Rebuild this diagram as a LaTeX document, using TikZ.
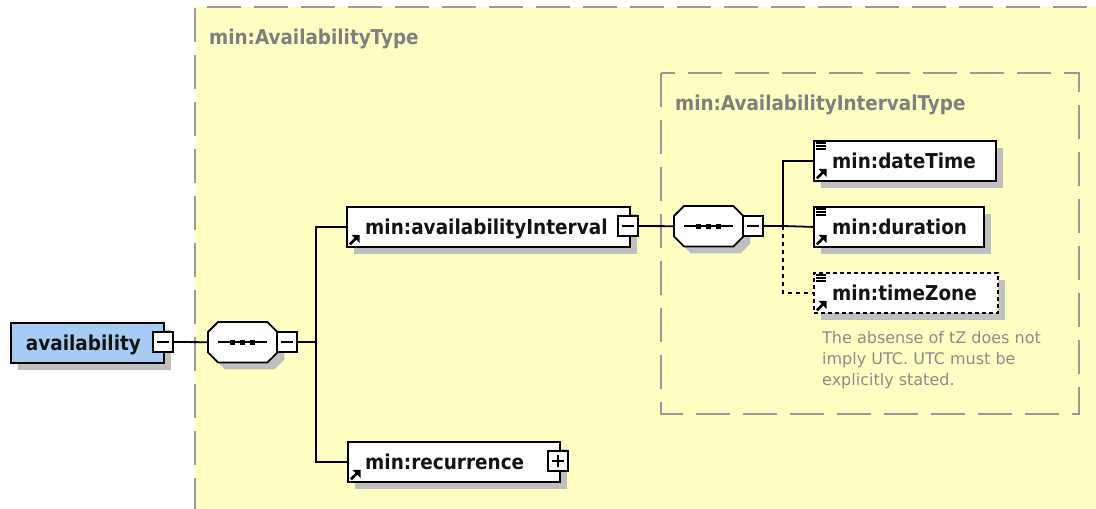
\documentclass[tikz,border=0pt]{standalone}
\usepackage{fontspec}
\setmainfont{DejaVu Sans}
\newfontfamily\lblfont{DejaVu Sans}[FakeStretch=0.9]
\usetikzlibrary{shadows,arrows.meta,calc}
\definecolor{bgyellow}{HTML}{FFFFC4}
\definecolor{elblue}{HTML}{A8CBF3}
\definecolor{shgray}{HTML}{BFBFBF}
\definecolor{dashgray}{HTML}{9A9A9A}
\definecolor{lblgray}{HTML}{7F7F7F}
\definecolor{cmtgray}{HTML}{8C8C8C}
\definecolor{txtdark}{HTML}{141414}
\newcommand\xsdRef[1]{%
  \draw[line width=2.6pt] ([xshift=4pt,yshift=3.5pt]#1.south west) -- ([xshift=10pt,yshift=9.5pt]#1.south west);
  \fill ([xshift=13.5pt,yshift=13pt]#1.south west) -- ([xshift=5.5pt,yshift=13pt]#1.south west) -- ([xshift=13.5pt,yshift=5pt]#1.south west) -- cycle;}
\newcommand\xsdSimple[1]{\foreach \dy in {3,6,9} {\draw[line width=1.2pt] ([xshift=3pt,yshift=-\dy pt]#1.north west) -- ++(10pt,0pt);}}
\newcommand\xsdSeq[1]{%
  \fill[shgray] ($(#1.north west)+(17,7)$) -- ($(#1.north east)+(-3,7)$) -- ($(#1.north east)+(7,17)$) -- ($(#1.south east)+(7,-3)$)
     -- ($(#1.south east)+(-3,7)$) -- ($(#1.south west)+(17,7)$) -- ($(#1.south west)+(7,-3)$) -- ($(#1.north west)+(7,17)$) -- cycle;
  \draw[line width=1.8pt, fill=white] ($(#1.north west)+(10,0)$) -- ($(#1.north east)+(-10,0)$) -- ($(#1.north east)+(0,10)$) -- ($(#1.south east)+(0,-10)$)
     -- ($(#1.south east)+(-10,0)$) -- ($(#1.south west)+(10,0)$) -- ($(#1.south west)+(0,-10)$) -- ($(#1.north west)+(0,10)$) -- cycle;
  \draw[line width=1.8pt] ([xshift=10pt]#1.west) -- ([xshift=-10pt]#1.east);
  \foreach \dx in {-10,0,10} {\fill ([xshift=\dx pt]#1.center) +(-2.3pt,-2.3pt) rectangle +(2.3pt,2.3pt);}}
\tikzset{
  elem/.style={draw=black, line width=1.8pt, fill=white, minimum height=40pt, inner sep=0pt, anchor=north west,
    general shadow={fill=shgray, shadow xshift=7pt, shadow yshift=-7pt}},
  optelem/.style={elem, dash pattern=on 4pt off 3pt},
  seqframe/.style={rectangle, draw=none, minimum width=69pt, minimum height=40pt, inner sep=0pt, anchor=north west},
  minusbox/.style={draw=black, line width=1.8pt, fill=white, minimum size=20pt, inner sep=0pt,
    path picture={\draw[line width=1.3pt] ([xshift=4pt]path picture bounding box.west) -- ([xshift=-4pt]path picture bounding box.east);}},
  plusbox/.style={minusbox,
    path picture={\draw[line width=1.3pt] ([xshift=4pt]path picture bounding box.west) -- ([xshift=-4pt]path picture bounding box.east);
                  \draw[line width=1.3pt] ([yshift=4pt]path picture bounding box.south) -- ([yshift=-4pt]path picture bounding box.north);}},
  lbl/.style={inner sep=0pt, text=txtdark, font=\lblfont\fontsize{20.5}{22}\selectfont\bfseries},
  grylbl/.style={inner sep=0pt, text=lblgray, font=\lblfont\fontsize{20.4}{22}\selectfont\bfseries},
  cmt/.style={inner sep=0pt, text=cmtgray, align=left, font=\fontsize{16}{21}\selectfont},
  conn/.style={draw=black, line width=1.8pt},
  optconn/.style={conn, dash pattern=on 4pt off 4pt},
  grpframe/.style={draw=dashgray, line width=2.5pt, dash pattern=on 34pt off 13pt}
}
\begin{document}
\begin{tikzpicture}[x=1pt,y=-1pt]
\useasboundingbox (0,0) rectangle (1096,509);
% outer complex type area
\fill[bgyellow] (195,7) rectangle (1100,515);
\draw[grpframe] (195,512) -- (195,7) -- (1100,7);
\node[grylbl, anchor=base west] (lblAT) at (209,44) {min:AvailabilityType};
% inner complex type area
\draw[grpframe] (661,73) rectangle (1079,414);
\node[grylbl, anchor=base west] (lblAIT) at (675,110) {min:AvailabilityIntervalType};

% root element
\node[elem, fill=elblue, minimum width=153pt] (av) at (10,322) {};
\node[lbl, anchor=base] (tav) at ([xshift=-4pt,yshift=-7.5pt]av.center) {availability};
\node[minusbox] (avm) at (163,342) {};

% first sequence
\node[seqframe] (s1) at (208,322) {};
\xsdSeq{s1}
\node[minusbox] (s1m) at (287,342) {};
\coordinate (b1) at (316,342);

% availabilityInterval
\node[elem, minimum width=283pt] (ai) at (346,206) {};
\node[lbl, anchor=base west] (tai) at ([xshift=19pt,yshift=-7.5pt]ai.west) {min:availabilityInterval};
\xsdRef{ai}
\node[minusbox] (aim) at (628,226) {};

% recurrence
\node[elem, minimum width=212pt] (rec) at (347,441) {};
\node[lbl, anchor=base west] (trec) at ([xshift=18pt,yshift=-7.5pt]rec.west) {min:recurrence};
\xsdRef{rec}
\node[plusbox] (recp) at (558,461) {};

% second sequence
\node[seqframe] (s2) at (674,206) {};
\xsdSeq{s2}
\node[minusbox] (s2m) at (753,226) {};
\coordinate (b2) at (783,226);

% children
\node[elem, minimum width=182pt] (dt) at (813,140) {};
\node[lbl, anchor=base west] (tdt) at ([xshift=19pt,yshift=-7.5pt]dt.west) {min:dateTime};
\xsdRef{dt}
\xsdSimple{dt}

\node[elem, minimum width=170pt] (du) at (813,206) {};
\node[lbl, anchor=base west] (tdu) at ([xshift=19pt,yshift=-7.5pt]du.west) {min:duration};
\xsdRef{du}
\xsdSimple{du}

\node[optelem, minimum width=184pt] (tz) at (813,272) {};
\node[lbl, anchor=base west] (ttz) at ([xshift=19pt,yshift=-7.5pt]tz.west) {min:timeZone};
\xsdRef{tz}
\xsdSimple{tz}

\node[cmt, anchor=north west] (tzc) at (822,331) {The absense of tZ does not\\imply UTC. UTC must be\\explicitly stated.};

% connectors
\draw[conn] (avm.east) -- (s1.west);
\draw[conn] (s1m.east) -- (b1);
\draw[conn] (b1) |- (ai.west);
\draw[conn] (b1) |- (rec.west);
\draw[conn] (aim.east) -- (s2.west);
\draw[conn] (s2m.east) -- (b2);
\draw[conn] (b2) |- (dt.west);
\draw[conn] (b2) -- (du.west);
\draw[optconn] (b2) |- (tz.west);
\end{tikzpicture}
\end{document}
